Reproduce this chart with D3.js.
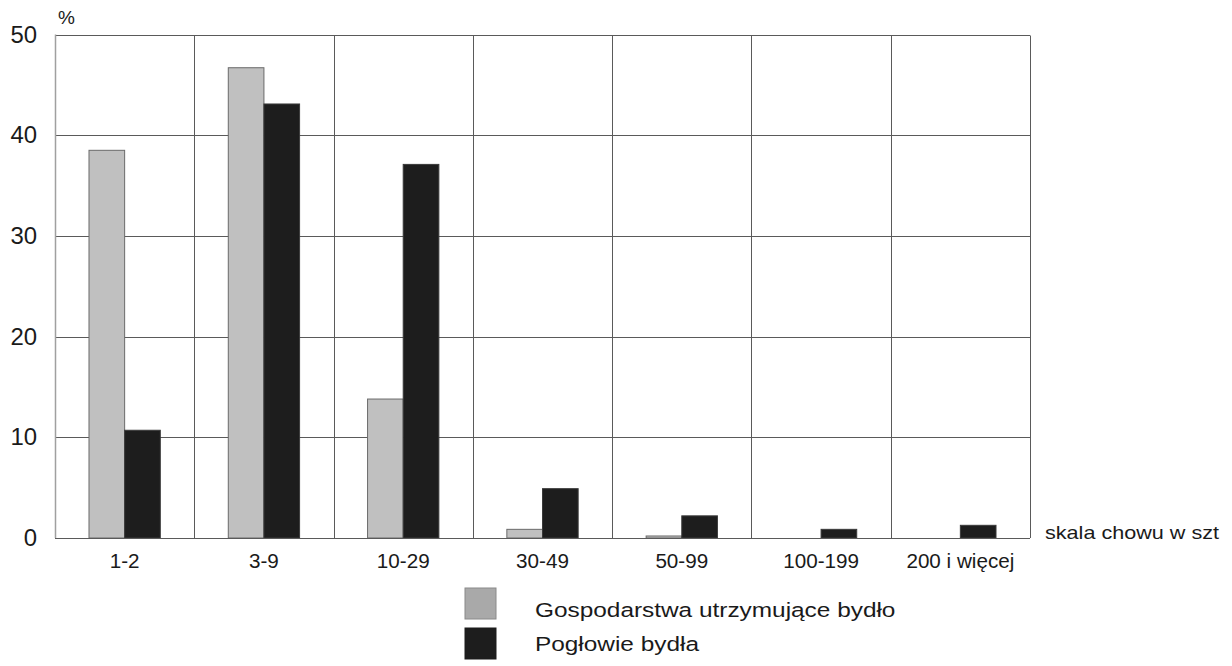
<!DOCTYPE html>
<html>
<head>
<meta charset="utf-8">
<script src="https://cdn.jsdelivr.net/npm/d3@7"></script>
<style>
  html, body { margin: 0; padding: 0; background: #ffffff; }
  svg { display: block; }
  text { font-family: "Liberation Sans", Arial, sans-serif; fill: #1a1a1a; }
</style>
</head>
<body>
<svg id="chart" width="1232" height="666"></svg>
<script>
const categories = ["1-2", "3-9", "10-29", "30-49", "50-99", "100-199", "200 i więcej"];
const seriesNames = ["Gospodarstwa utrzymujące bydło", "Pogłowie bydła"];
const gospodarstwa = [38.5, 46.7, 13.8, 0.86, 0.2, 0, 0];
const poglowie = [10.7, 43.1, 37.1, 4.9, 2.2, 0.86, 1.26];
const yTicks = [0, 10, 20, 30, 40, 50];
const yUnit = "%";
const xTitle = "skala chowu w szt";

(function () {
const svg = d3.select("#chart");
svg.append("rect").attr("width", 1232).attr("height", 666).attr("fill", "#fff");

const pLeft = 55, pRight = 1030, pTop = 34.5, pBottom = 538;
const x = d3.scaleBand().domain(categories).range([pLeft, pRight]).padding(0);
const inner = d3.scaleBand().domain(seriesNames).range([0, 71.3]).padding(0);
const y = d3.scaleLinear().domain([0, 50]).range([pBottom, pTop]);

const g = svg.append("g");

// horizontal gridlines
g.selectAll("line.hgrid").data(yTicks.filter(t => t > 0)).join("line")
  .attr("class", "hgrid")
  .attr("x1", pLeft).attr("x2", pRight)
  .attr("y1", d => Math.round(y(d)) + 0.5).attr("y2", d => Math.round(y(d)) + 0.5)
  .attr("stroke", "#5a5a5a").attr("stroke-width", 1);

// vertical separators
const seps = categories.slice(1).map(c => x(c)).concat([pRight]);
g.selectAll("line.vgrid").data(seps).join("line")
  .attr("class", "vgrid")
  .attr("x1", d => Math.round(d) + 0.5).attr("x2", d => Math.round(d) + 0.5)
  .attr("y1", Math.round(y(50)) + 0.5).attr("y2", pBottom)
  .attr("stroke", "#5a5a5a").attr("stroke-width", 1);

// bars
const data = [];
categories.forEach((c, i) => {
  data.push({ c, s: seriesNames[0], v: gospodarstwa[i] });
  data.push({ c, s: seriesNames[1], v: poglowie[i] });
});
const fill = { [seriesNames[0]]: "#c0c0c0", [seriesNames[1]]: "#1d1d1d" };
const stroke = { [seriesNames[0]]: "#6a6a6a", [seriesNames[1]]: "#3a3a3a" };
g.selectAll("rect.bar").data(data.filter(d => d.v > 0)).join("rect")
  .attr("class", "bar")
  .attr("x", d => x(d.c) + x.bandwidth() / 2 - inner.range()[1] / 2 + inner(d.s))
  .attr("width", inner.bandwidth())
  .attr("y", d => y(d.v))
  .attr("height", d => pBottom - y(d.v))
  .attr("fill", d => fill[d.s])
  .attr("stroke", d => stroke[d.s]).attr("stroke-width", 1);

// axes lines
g.append("line").attr("x1", pLeft + 0.5).attr("x2", pLeft + 0.5).attr("y1", pTop).attr("y2", pBottom)
  .attr("stroke", "#a0a0a0").attr("stroke-width", 1.5);
g.append("line").attr("x1", pLeft).attr("x2", pRight).attr("y1", pBottom + 0.5).attr("y2", pBottom + 0.5)
  .attr("stroke", "#5a5a5a").attr("stroke-width", 1);

// y tick labels
g.selectAll("text.ytick").data(yTicks).join("text")
  .attr("class", "ytick")
  .attr("text-anchor", "end")
  .attr("transform", d => `translate(37,${y(d) + 8}) scale(1.04,1)`)
  .attr("font-size", 23)
  .text(d => d);

// % unit
g.append("text").attr("transform", "translate(58,24) scale(1.0,1)")
  .attr("font-size", 19).text(yUnit);

// x labels
g.selectAll("text.xtick").data(categories).join("text")
  .attr("class", "xtick")
  .attr("text-anchor", "middle")
  .attr("transform", d => `translate(${x(d) + x.bandwidth() / 2},568) scale(1.06,1)`)
  .attr("font-size", 19.5)
  .text(d => d);

// x title
g.append("text").attr("transform", "translate(1045,539) scale(1.2,1)")
  .attr("font-size", 18).text(xTitle);

// legend
const leg = g.append("g");
const legFill = ["#a9a9a9", "#1d1d1d"];
const legStroke = ["#8a8a8a", "#1d1d1d"];
seriesNames.forEach((s, i) => {
  leg.append("rect").attr("x", 465).attr("y", 588 + i * 40).attr("width", 31).attr("height", 31)
    .attr("fill", legFill[i]).attr("stroke", legStroke[i]).attr("stroke-width", 1);
  leg.append("text").attr("transform", `translate(535,${617 + i * 34}) scale(1.19,1)`)
    .attr("font-size", 20.5).text(s);
});
})();
</script>
</body>
</html>
